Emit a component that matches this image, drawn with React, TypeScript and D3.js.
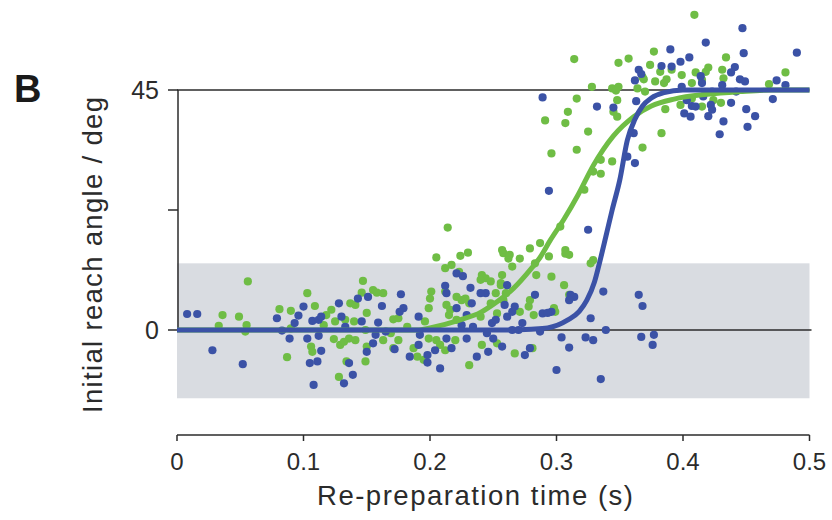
import React from 'react';
import * as d3 from 'd3';

// [re-preparation time (s), initial reach angle (deg)]
const bluePoints: [number, number][] = [
  [0.008, 3.0], [0.016, 3.0], [0.028, -3.8], [0.052, -6.4], [0.079, 2.2], [0.083, -0.1],
  [0.089, -1.6], [0.093, 1.3], [0.096, 2.7], [0.100, 4.4], [0.103, -1.6], [0.107, 1.7],
  [0.112, 1.9], [0.114, 2.5], [0.112, -1.1], [0.114, -3.9], [0.105, -6.2], [0.111, -5.9],
  [0.108, -10.3], [0.128, 5.0], [0.130, 2.5], [0.132, -10.0], [0.143, 5.9], [0.151, 6.2],
  [0.162, 4.5], [0.177, 6.7], [0.179, 4.1], [0.176, 3.4], [0.146, 1.6], [0.159, 1.4],
  [0.157, -0.9], [0.155, -2.5], [0.165, -0.3], [0.133, 0.6], [0.136, -6.2], [0.139, -8.4],
  [0.150, -4.1], [0.172, -3.6], [0.198, -6.1], [0.191, 2.5], [0.192, -0.9], [0.191, -2.8],
  [0.184, -5.0], [0.198, -4.7], [0.204, -3.8], [0.208, -7.2], [0.212, 8.3], [0.213, 6.9],
  [0.221, 4.1], [0.221, 10.6], [0.226, 10.1], [0.232, 7.9], [0.229, 2.8], [0.233, 5.0],
  [0.225, 0.9], [0.234, 0.6], [0.213, -1.6], [0.217, -3.4], [0.229, -1.6], [0.237, -5.0],
  [0.246, -4.1], [0.244, 6.9], [0.240, 6.9], [0.249, 1.3], [0.252, 1.9], [0.245, -0.6],
  [0.250, -1.6], [0.257, -3.1], [0.259, 4.7], [0.261, 2.5], [0.337, 7.2], [0.365, 6.6],
  [0.368, 4.5], [0.327, 2.2], [0.339, 0.0], [0.323, -1.4], [0.329, -1.9], [0.304, -1.4],
  [0.310, -3.3], [0.300, -7.5], [0.335, -9.2], [0.367, -1.3], [0.377, -0.9], [0.376, -2.8],
  [0.275, -4.7], [0.279, -3.4], [0.283, 6.6], [0.289, 3.1], [0.296, 3.4], [0.293, 3.2],
  [0.311, 6.6], [0.314, 6.2], [0.310, 5.6], [0.265, 3.4], [0.267, 4.4], [0.273, 1.3],
  [0.261, 8.4], [0.265, 0.0], [0.270, 0.0], [0.287, -0.3], [0.289, 43.6], [0.332, 41.9],
  [0.345, 41.7], [0.365, 48.8], [0.362, 46.8], [0.363, 42.9], [0.361, 36.9], [0.356, 32.5],
  [0.362, 31.3], [0.294, 26.1], [0.325, 18.8], [0.447, 56.6], [0.418, 53.9], [0.390, 52.6],
  [0.448, 51.9], [0.490, 52.0], [0.405, 51.1], [0.398, 50.3], [0.383, 49.5], [0.391, 49.4],
  [0.441, 49.3], [0.438, 48.3], [0.445, 47.0], [0.449, 46.6], [0.474, 46.8], [0.481, 45.9],
  [0.414, 47.6], [0.415, 46.3], [0.399, 45.6], [0.431, 45.9], [0.423, 44.7], [0.416, 43.8],
  [0.442, 44.7], [0.403, 43.1], [0.438, 42.6], [0.422, 42.2], [0.423, 41.3], [0.407, 42.0],
  [0.410, 41.9], [0.401, 40.6], [0.406, 40.0], [0.420, 40.1], [0.432, 39.1], [0.450, 41.4],
  [0.457, 40.1], [0.451, 38.1], [0.429, 36.7], [0.471, 43.3], [0.367, 48.0],
];

const greenPoints: [number, number][] = [
  [0.056, 9.1], [0.036, 2.8], [0.033, 0.8], [0.049, 2.5], [0.055, 0.9], [0.054, -0.3],
  [0.081, 3.9], [0.090, 3.6], [0.103, 6.9], [0.109, 4.5], [0.090, 0.3], [0.087, -5.1],
  [0.106, -3.1], [0.107, -4.1], [0.122, 3.8], [0.118, 2.8], [0.125, 1.6], [0.116, 0.9],
  [0.124, -1.7], [0.129, -2.8], [0.128, -8.8], [0.205, 13.6], [0.224, 13.9], [0.230, 14.5],
  [0.212, 11.6], [0.217, 12.2], [0.223, 10.9], [0.241, 10.3], [0.244, 9.7], [0.240, 9.4],
  [0.258, 14.4], [0.257, 10.3], [0.147, 9.2], [0.146, 7.0], [0.155, 7.5], [0.158, 7.0],
  [0.163, 6.9], [0.137, 5.0], [0.141, 4.7], [0.150, 3.2], [0.133, 1.9], [0.140, 1.6],
  [0.149, 0.0], [0.136, -1.6], [0.141, -1.9], [0.132, -2.2], [0.150, -3.1], [0.149, -5.9],
  [0.134, -5.9], [0.163, -1.9], [0.169, -0.6], [0.175, -1.9], [0.171, -3.4], [0.171, 2.0],
  [0.175, 2.2], [0.182, 0.6], [0.187, -3.4], [0.190, -5.0], [0.195, -5.6], [0.199, 4.1],
  [0.201, 7.2], [0.200, 5.9], [0.196, 1.6], [0.199, -1.6], [0.205, -1.9], [0.208, -2.8],
  [0.212, -3.8], [0.213, 4.7], [0.216, 3.8], [0.215, 2.8], [0.212, 7.2], [0.221, 6.2],
  [0.225, 5.6], [0.228, 5.9], [0.231, 5.0], [0.220, -1.9], [0.221, 1.9], [0.231, -6.6],
  [0.240, 2.5], [0.241, -2.8], [0.253, -2.5], [0.252, 6.9], [0.256, 8.4], [0.258, 5.6],
  [0.248, 5.0], [0.253, 3.1], [0.214, 19.2], [0.296, 10.0], [0.306, 8.4], [0.310, 6.6],
  [0.298, 4.1], [0.299, 3.4], [0.282, 2.8], [0.271, 3.4], [0.279, 5.6], [0.278, 4.4],
  [0.267, -4.4], [0.281, -3.4], [0.284, 10.3], [0.283, 12.5], [0.307, 14.3], [0.294, 13.8],
  [0.271, 13.4], [0.262, 13.4], [0.327, 12.5], [0.329, 13.1], [0.260, 6.9], [0.257, 15.0],
  [0.263, 14.1], [0.279, 15.3], [0.287, 16.3], [0.248, 9.1], [0.256, 8.8], [0.265, 11.9],
  [0.314, 50.8], [0.349, 50.1], [0.357, 50.9], [0.374, 49.7], [0.328, 45.6], [0.316, 43.4],
  [0.309, 40.9], [0.291, 39.3], [0.307, 38.8], [0.325, 37.2], [0.296, 33.1], [0.316, 33.8],
  [0.344, 45.3], [0.349, 45.6], [0.347, 44.9], [0.348, 43.1], [0.345, 40.9], [0.348, 40.0],
  [0.368, 47.4], [0.364, 45.3], [0.370, 44.7], [0.368, 34.2], [0.335, 31.9], [0.344, 31.6],
  [0.329, 29.7], [0.335, 29.3], [0.322, 26.3], [0.303, 19.4], [0.307, 15.0], [0.310, 14.1],
  [0.377, 52.2], [0.434, 51.1], [0.391, 48.8], [0.382, 48.4], [0.399, 47.8], [0.410, 48.3],
  [0.420, 49.2], [0.418, 48.4], [0.431, 48.8], [0.378, 46.6], [0.385, 46.3], [0.387, 47.0],
  [0.407, 46.3], [0.415, 46.9], [0.432, 47.2], [0.481, 48.3], [0.468, 46.1], [0.369, 47.0],
  [0.386, 41.4], [0.398, 42.2], [0.415, 41.9], [0.430, 42.6], [0.424, 43.1], [0.407, 43.4],
  [0.383, 36.9], [0.409, 59.1],
];

// fitted curves
const blueFit: [number, number][] = [
  [0, 0], [0.26, 0], [0.28, 0.15], [0.293, 0.4], [0.309, 1.9], [0.318, 3.5], [0.324, 5.6],
  [0.33, 9], [0.334, 12.6], [0.339, 17.5], [0.344, 22.5], [0.35, 28.1], [0.356, 35.6],
  [0.362, 39.5], [0.368, 42], [0.375, 43.5], [0.385, 44.5], [0.4, 45], [0.5, 45],
];
const greenFit: [number, number][] = [
  [0, 0], [0.19, 0], [0.2, 0.4], [0.224, 1.9], [0.24, 3.3], [0.25, 4.8], [0.266, 7.8],
  [0.28, 11.5], [0.287, 13.6], [0.295, 16.8], [0.306, 20.8], [0.317, 25.3], [0.329, 30.8],
  [0.345, 36.4], [0.361, 40], [0.375, 42], [0.393, 43.3], [0.419, 44.2], [0.445, 44.7],
  [0.47, 45], [0.5, 45],
];

const xTicks = [0, 0.1, 0.2, 0.3, 0.4, 0.5];
const yTicks = [0, 22.5, 45];
const yTickLabels = ['0', '', '45'];
const band = [-12.8, 12.5];

const BLUE = '#3b52a6';
const GREEN = '#6fbd45';
const INK = '#2b2b2b';
const FONT = '"Liberation Sans", Arial, Helvetica, sans-serif';

export default function App() {
  const x = d3.scaleLinear().domain([0, 0.5]).range([177, 809.5]);
  const y = d3.scaleLinear().domain([0, 45]).range([330, 90]);
  const line = d3.line<[number, number]>()
    .x(d => x(d[0]))
    .y(d => y(d[1]))
    .curve(d3.curveMonotoneX);
  const axisY = 435;

  return (
    <svg width={832} height={520} style={{ position: 'absolute', left: 0, top: 0, background: '#fff' }}
      fontFamily={FONT}>
      <rect x={x(0)} y={y(band[1])} width={x(0.5) - x(0)} height={y(band[0]) - y(band[1])} fill="#d9dce1" />

      {/* reference lines at 0 and 45 */}
      <line x1={x(0)} x2={x(0.5) + 2} y1={y(0)} y2={y(0)} stroke={INK} strokeWidth={1.5} />
      <line x1={x(0)} x2={x(0.5)} y1={y(45)} y2={y(45)} stroke={INK} strokeWidth={1.5} />

      {/* y axis */}
      <line x1={x(0) + 1} x2={x(0) + 1} y1={y(0)} y2={y(45)} stroke={INK} strokeWidth={1.5} />
      {yTicks.map((t, i) => (
        <g key={t}>
          <line x1={168} x2={x(0) + 1} y1={y(t)} y2={y(t)} stroke={INK} strokeWidth={1.5} />
          {yTickLabels[i] && (
            <text x={159} y={y(t)} dy="0.35em" textAnchor="end" fontSize={25} fill={INK}>{yTickLabels[i]}</text>
          )}
        </g>
      ))}

      {/* x axis */}
      <line x1={x(0)} x2={x(0.5)} y1={axisY} y2={axisY} stroke={INK} strokeWidth={1.5} />
      {xTicks.map(t => (
        <g key={t}>
          <line x1={x(t)} x2={x(t)} y1={axisY} y2={axisY + 6} stroke={INK} strokeWidth={1.5} />
          <text x={x(t)} y={470} textAnchor="middle" fontSize={24} fill={INK}>{t === 0 ? '0' : d3.format('.1f')(t)}</text>
        </g>
      ))}

      <text x={475} y={505} textAnchor="middle" fontSize={27.5} fill={INK} textLength={316} lengthAdjust="spacing">
        Re-preparation time (s)
      </text>
      <text transform="translate(102,255) rotate(-90)" textAnchor="middle" fontSize={27.5} fill={INK}
        textLength={316} lengthAdjust="spacing">
        Initial reach angle / deg
      </text>
      <text x={14} y={102} fontSize={38} fontWeight="bold" fill="#1a1a1a">B</text>

      {greenPoints.map((d, i) => (
        <circle key={'g' + i} cx={x(d[0])} cy={y(d[1])} r={4.1} fill={GREEN} />
      ))}
      {bluePoints.map((d, i) => (
        <circle key={'b' + i} cx={x(d[0])} cy={y(d[1])} r={4.1} fill={BLUE} />
      ))}

      <path d={line(greenFit) || ''} fill="none" stroke={GREEN} strokeWidth={5} />
      <path d={line(blueFit) || ''} fill="none" stroke={BLUE} strokeWidth={5} />
    </svg>
  );
}
